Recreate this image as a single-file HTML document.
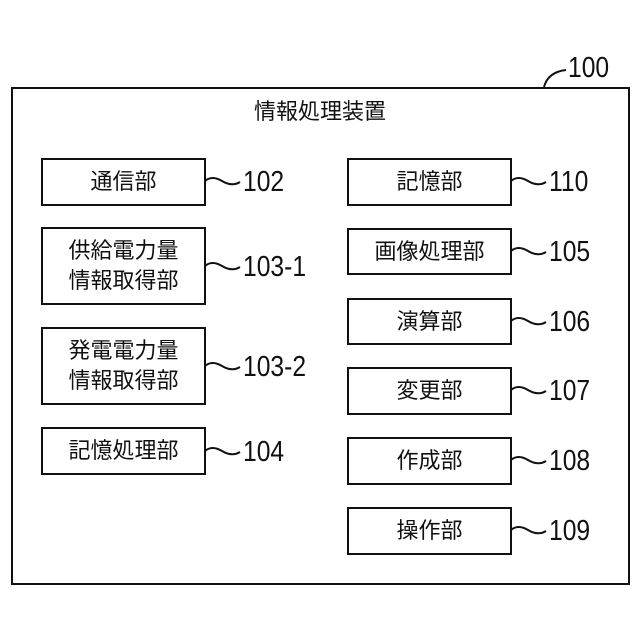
<!DOCTYPE html>
<html><head><meta charset="utf-8"><style>
html,body{margin:0;padding:0;background:#fff;}
body{width:640px;height:640px;position:relative;overflow:hidden;font-family:"Liberation Sans","Noto Sans CJK JP",sans-serif;color:#111;}
.b{position:absolute;border:2px solid #111;box-sizing:border-box;display:flex;align-items:center;justify-content:center;text-align:center;font-size:22px;line-height:30px;background:#fff;}
.n{position:absolute;font-family:"Liberation Sans Narrow","Liberation Sans",sans-serif;font-size:29px;line-height:30px;transform:scaleX(0.85);transform-origin:left center;}
svg{position:absolute;left:0;top:0;}
</style></head><body>
<div class="b" style="left:11px;top:87px;width:619px;height:498px;"></div>
<div style="position:absolute;left:0;width:640px;top:97px;text-align:center;font-size:22px;line-height:30px;">情報処理装置</div>
<svg width="640" height="640" fill="none" stroke="#111" stroke-width="2">
<path d="M544 87 Q548 72 566 70"/>
<path d="M205 181 Q212 175 222 181 T240 182"/>
<path d="M205 266 Q212 260 222 266 T240 267"/>
<path d="M205 366 Q212 360 222 366 T240 367"/>
<path d="M205 451 Q212 445 222 451 T240 452"/>
<path d="M511 181 Q518 175 528 181 T546 182"/>
<path d="M511 251 Q518 245 528 251 T546 252"/>
<path d="M511 321 Q518 315 528 321 T546 322"/>
<path d="M511 390 Q518 384 528 390 T546 391"/>
<path d="M511 460 Q518 454 528 460 T546 461"/>
<path d="M511 530 Q518 524 528 530 T546 531"/>
</svg>
<div class="n" style="left:568px;top:53px;">100</div>
<div class="b" style="left:41px;top:158px;width:165px;height:48px;">通信部</div>
<div class="b" style="left:41px;top:227px;width:165px;height:78px;">供給電力量<br>情報取得部</div>
<div class="b" style="left:41px;top:327px;width:165px;height:78px;">発電電力量<br>情報取得部</div>
<div class="b" style="left:41px;top:427px;width:165px;height:48px;">記憶処理部</div>
<div class="n" style="left:243px;top:167px;">102</div>
<div class="n" style="left:243px;top:252px;">103-1</div>
<div class="n" style="left:243px;top:352px;">103-2</div>
<div class="n" style="left:243px;top:437px;">104</div>
<div class="b" style="left:347px;top:158px;width:165px;height:48px;">記憶部</div>
<div class="b" style="left:347px;top:228px;width:165px;height:47px;">画像処理部</div>
<div class="b" style="left:347px;top:298px;width:165px;height:47px;">演算部</div>
<div class="b" style="left:347px;top:367px;width:165px;height:48px;">変更部</div>
<div class="b" style="left:347px;top:437px;width:165px;height:48px;">作成部</div>
<div class="b" style="left:347px;top:507px;width:165px;height:48px;">操作部</div>
<div class="n" style="left:549px;top:167px;">110</div>
<div class="n" style="left:549px;top:237px;">105</div>
<div class="n" style="left:549px;top:307px;">106</div>
<div class="n" style="left:549px;top:376px;">107</div>
<div class="n" style="left:549px;top:446px;">108</div>
<div class="n" style="left:549px;top:516px;">109</div>
</body></html>
